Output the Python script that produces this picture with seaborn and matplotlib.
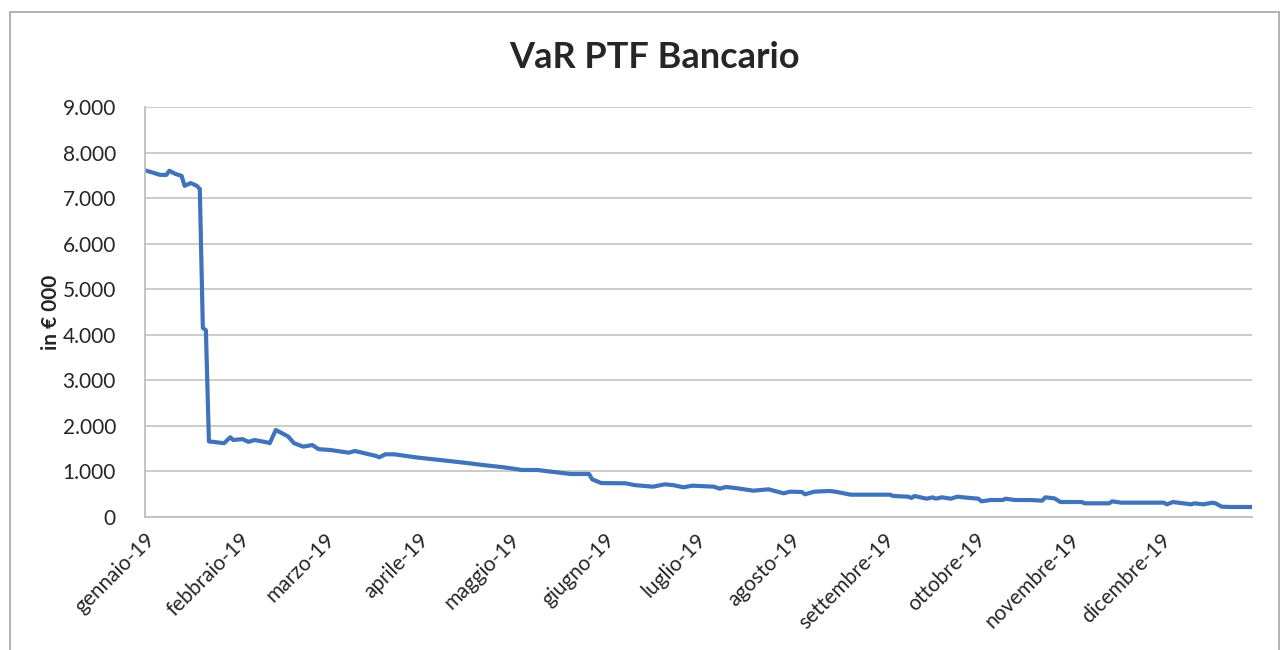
# VaR del portafoglio bancario nel 2019, riprodotto con seaborn
import numpy as np
import pandas as pd
import seaborn as sns
import matplotlib.pyplot as plt
import matplotlib.ticker as mticker
from matplotlib.patches import Rectangle

# %%
# dati (valori in migliaia di euro)
dates = ["2019-01-01", "2019-01-06", "2019-01-08", "2019-01-09", "2019-01-11",
         "2019-01-13", "2019-01-14", "2019-01-16", "2019-01-18", "2019-01-19",
         "2019-01-20", "2019-01-21", "2019-01-22", "2019-01-27", "2019-01-29",
         "2019-01-30", "2019-02-02", "2019-02-04", "2019-02-06", "2019-02-10",
         "2019-02-11", "2019-02-13", "2019-02-17", "2019-02-19", "2019-02-22",
         "2019-02-25", "2019-02-27", "2019-03-03", "2019-03-09", "2019-03-11",
         "2019-03-18", "2019-03-19", "2019-03-21", "2019-03-24", "2019-03-31",
         "2019-04-08", "2019-04-16", "2019-04-22", "2019-04-29", "2019-05-05",
         "2019-05-10", "2019-05-21", "2019-05-27", "2019-05-28", "2019-05-31",
         "2019-06-08", "2019-06-11", "2019-06-17", "2019-06-21", "2019-06-24",
         "2019-06-27", "2019-06-30", "2019-07-07", "2019-07-09", "2019-07-11",
         "2019-07-14", "2019-07-20", "2019-07-25", "2019-07-30", "2019-08-01",
         "2019-08-05", "2019-08-06", "2019-08-09", "2019-08-14", "2019-08-16",
         "2019-08-21", "2019-09-03", "2019-09-04", "2019-09-09", "2019-09-10",
         "2019-09-11", "2019-09-15", "2019-09-17", "2019-09-18", "2019-09-20",
         "2019-09-23", "2019-09-25", "2019-09-27", "2019-10-02", "2019-10-03",
         "2019-10-06", "2019-10-10", "2019-10-11", "2019-10-14", "2019-10-19",
         "2019-10-23", "2019-10-24", "2019-10-27", "2019-10-29", "2019-11-05",
         "2019-11-06", "2019-11-14", "2019-11-15", "2019-11-18", "2019-12-02",
         "2019-12-03", "2019-12-05", "2019-12-11", "2019-12-12", "2019-12-15",
         "2019-12-18", "2019-12-19", "2019-12-21", "2019-12-24", "2019-12-31"]
var_values = [7610, 7510, 7510, 7600, 7530,
              7490, 7270, 7330, 7270, 7200,
              4150, 4100, 1660, 1620, 1750,
              1690, 1710, 1650, 1690, 1640,
              1620, 1910, 1770, 1620, 1545,
              1580, 1490, 1470, 1412, 1449,
              1340, 1310, 1376, 1376, 1310,
              1251, 1192, 1142, 1091, 1032,
              1032, 944, 944, 828, 745,
              740, 700, 666, 718, 696,
              652, 688, 666, 622, 659,
              637, 578, 608, 520, 556,
              549, 498, 556, 571, 556,
              490, 490, 461, 446, 417,
              461, 402, 432, 402, 432,
              402, 446, 432, 402, 344,
              373, 373, 402, 373, 373,
              359, 432, 410, 329, 329,
              300, 300, 344, 315, 315,
              278, 329, 278, 300, 278,
              315, 300, 227, 220, 220]

month_starts = ["2019-01-01", "2019-02-01", "2019-03-01", "2019-04-01",
                "2019-05-01", "2019-06-01", "2019-07-01", "2019-08-01",
                "2019-09-01", "2019-10-01", "2019-11-01", "2019-12-01"]
month_labels = ["gennaio-19", "febbraio-19", "marzo-19", "aprile-19",
                "maggio-19", "giugno-19", "luglio-19", "agosto-19",
                "settembre-19", "ottobre-19", "novembre-19", "dicembre-19"]

data = pd.DataFrame({"date": pd.to_datetime(dates), "var": var_values})

# %%
sns.set_style("white")
plt.rcParams['font.family'] = ['Lato', 'DejaVu Sans']

fig = plt.figure(figsize=(12.86, 6.5), dpi=100)
ax = fig.add_axes([0.1128, 0.2046, 0.8608, 0.6308])

sns.lineplot(data=data, x="date", y="var", ax=ax, color="#3f73bb", lw=3)

ax.set_xlim(pd.Timestamp("2019-01-01"), pd.Timestamp("2019-12-31"))
ax.set_ylim(0, 9000)
ax.set_yticks(np.arange(0, 9001, 1000))
ax.yaxis.set_major_formatter(mticker.FuncFormatter(
    lambda v, p: f"{int(v):,}".replace(",", ".")))
ax.set_xticks(pd.to_datetime(month_starts))
ax.set_xticklabels(month_labels, rotation=45, ha="right",
                   rotation_mode="anchor")
ax.tick_params(axis="both", length=0, labelsize=15, colors="#262626")
ax.tick_params(axis="y", pad=21)
ax.tick_params(axis="x", pad=9)

ax.grid(axis="y", color="#c8c8c8", lw=1.3)
for s in ["top", "right"]:
    ax.spines[s].set_visible(False)
for s in ["left", "bottom"]:
    ax.spines[s].set_color("#bfbfbf")
    ax.spines[s].set_linewidth(1.3)

ax.set_xlabel("")
ax.set_ylabel("in € 000", fontsize=15, fontweight="bold")
ax.yaxis.set_label_coords(-0.076, 0.5)

fig.text(0.509, 0.912, "VaR PTF Bancario", ha="center", va="center",
         fontsize=26, fontweight="bold")

# cornice del grafico
fig.patches.append(Rectangle((10 / 1286, -0.05), 1269 / 1286, 1.05 - 12 / 650,
                             transform=fig.transFigure, fill=False,
                             edgecolor="#a6a6a6", lw=1.2))

fig.savefig("out.png", dpi=100)
